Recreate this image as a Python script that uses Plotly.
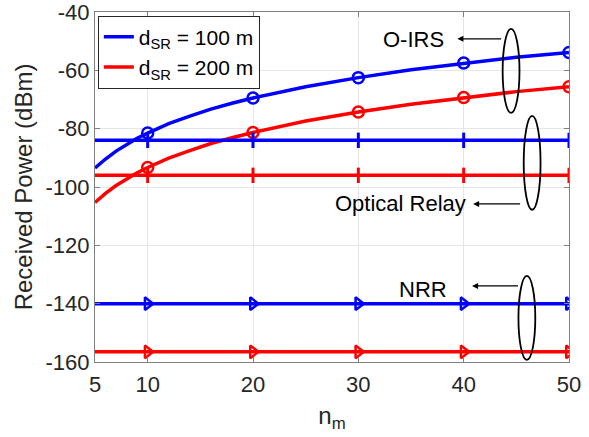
import plotly.graph_objects as go

# O-IRS curves
n_curve = [5, 6, 7, 8, 9, 10, 12, 14, 16, 18, 20, 25, 30, 35, 40, 45, 50]
oirs_100 = [-93.5, -90.4, -87.7, -85.4, -83.3, -81.5, -78.3, -75.7, -73.3, -71.3,
            -69.5, -65.6, -62.5, -59.8, -57.5, -55.5, -53.9]
oirs_200 = [-105.3, -102.2, -99.5, -97.2, -95.1, -93.3, -90.1, -87.5, -85.1, -83.1,
            -81.3, -77.4, -74.3, -71.6, -69.3, -67.3, -65.6]
n_marks = [10, 20, 30, 40, 50]
oirs_100_marks = [-81.5, -69.5, -62.5, -57.5, -53.9]
oirs_200_marks = [-93.3, -81.3, -74.3, -69.3, -65.6]

n_flat = [5, 10, 20, 30, 40, 50]
relay_100 = [-84, -84, -84, -84, -84, -84]
relay_200 = [-96, -96, -96, -96, -96, -96]
nrr_100 = [-140, -140, -140, -140, -140, -140]
nrr_200 = [-156.5, -156.5, -156.5, -156.5, -156.5, -156.5]

legend_labels = ["d<sub>SR</sub> = 100 m", "d<sub>SR</sub> = 200 m"]
x_ticks = [5, 10, 20, 30, 40, 50]
y_ticks = [-160, -140, -120, -100, -80, -60, -40]

BLUE = "#0000ff"
RED = "#ff0000"
FONT = "Liberation Sans, Arial, sans-serif"

fig = go.Figure()

fig.add_trace(go.Scatter(x=n_curve, y=oirs_100, mode="lines", line=dict(color=BLUE, width=3.5),
                         name=legend_labels[0]))
fig.add_trace(go.Scatter(x=n_curve, y=oirs_200, mode="lines", line=dict(color=RED, width=3.5),
                         name=legend_labels[1]))
fig.add_trace(go.Scatter(x=n_marks, y=oirs_100_marks, mode="markers", showlegend=False,
                         marker=dict(symbol="circle-open", size=11, color=BLUE, line=dict(width=2.5))))
fig.add_trace(go.Scatter(x=n_marks, y=oirs_200_marks, mode="markers", showlegend=False,
                         marker=dict(symbol="circle-open", size=11, color=RED, line=dict(width=2.5))))

for ys, col in [(relay_100, BLUE), (relay_200, RED)]:
    fig.add_trace(go.Scatter(x=n_flat, y=ys, mode="lines", showlegend=False,
                             line=dict(color=col, width=3.5)))
    fig.add_trace(go.Scatter(x=n_flat[1:], y=ys[1:], mode="markers", showlegend=False,
                             marker=dict(symbol="line-ns-open", size=11, color=col, line=dict(width=3, color=col))))
for ys, col in [(nrr_100, BLUE), (nrr_200, RED)]:
    fig.add_trace(go.Scatter(x=n_flat, y=ys, mode="lines", showlegend=False,
                             line=dict(color=col, width=3.5)))
    fig.add_trace(go.Scatter(x=n_flat[1:], y=ys[1:], mode="markers", showlegend=False,
                             marker=dict(symbol="triangle-right-open", size=11, color=col, line=dict(width=2.5))))

# ellipses
for x0, x1, y0, y1 in [(43.7, 45.3, -74.6, -45.8), (45.7, 47.3, -107.8, -75.6), (45.2, 46.8, -159.3, -130.5)]:
    fig.add_shape(type="circle", xref="x", yref="y", x0=x0, x1=x1, y0=y0, y1=y1,
                  line=dict(color="black", width=1.8))

# arrows + labels
for tip, tail, y in [(39.4, 43.7, -49.2), (40.9, 45.5, -105.8), (40.8, 45.3, -133.9)]:
    fig.add_annotation(x=tip, y=y, ax=tail, ay=y, xref="x", yref="y", axref="x", ayref="y",
                       text="", showarrow=True, arrowhead=2, arrowsize=1, arrowwidth=1.2, arrowcolor="black")
for txt, x, y in [("O-IRS", 35.2, -49.5), ("Optical Relay", 34.0, -105.7), ("NRR", 36.1, -135.0)]:
    fig.add_annotation(x=x, y=y, xref="x", yref="y", text=txt, showarrow=False,
                       font=dict(family=FONT, size=22, color="black"))

fig.update_layout(
    width=589, height=437,
    margin=dict(l=95, r=20, t=12, b=75),
    paper_bgcolor="white", plot_bgcolor="white",
    font=dict(family=FONT, size=22, color="#262626"),
    legend=dict(x=0.006, y=0.99, xanchor="left", yanchor="top",
                bgcolor="white", bordercolor="#262626", borderwidth=1,
                font=dict(family=FONT, size=21, color="black"),
                tracegroupgap=0, itemwidth=30),
)
fig.update_xaxes(range=[5, 50], tickvals=x_ticks, ticktext=[str(v) for v in x_ticks],
                 tickfont=dict(size=22), ticklabeloverflow="allow", automargin=False,
                 ticklabelstandoff=3,
                 showgrid=True, gridcolor="#e6e6e6", gridwidth=1,
                 showline=True, linecolor="#808080", linewidth=1, mirror="ticks",
                 ticks="inside", ticklen=5, tickcolor="#808080", zeroline=False,
                 title=dict(text="n<sub>m</sub>", font=dict(size=24, color="#262626"), standoff=10))
fig.update_yaxes(range=[-160, -40], tickvals=y_ticks, ticktext=[str(v) for v in y_ticks],
                 tickfont=dict(size=22), ticklabeloverflow="allow", automargin=False,
                 showgrid=True, gridcolor="#e6e6e6", gridwidth=1,
                 showline=True, linecolor="#808080", linewidth=1, mirror="ticks",
                 ticks="inside", ticklen=5, tickcolor="#808080", zeroline=False,
                 title=dict(text="Received Power (dBm)", font=dict(size=24, color="#262626"), standoff=6))

fig.write_html("out.html", config={"displayModeBar": False},
               post_script="document.body.style.margin='0';")
